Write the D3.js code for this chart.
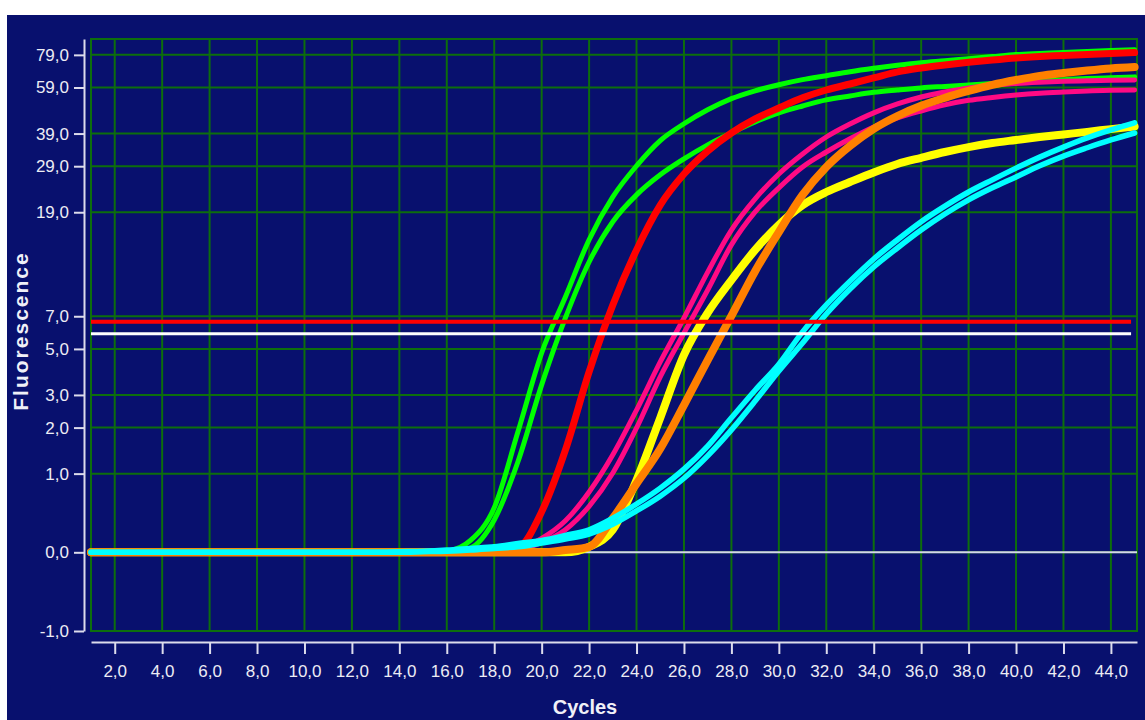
<!DOCTYPE html>
<meta charset="utf-8">
<style>
  body { margin: 0; background: #fff; }
  .axis path, .axis line { stroke: #dcdcec; stroke-width: 2; }
  .axis text { font: 17px "Liberation Sans Narrow", "Arial Narrow", sans-serif; fill: #ececf4; }
  .grid line, .grid rect { stroke: #0d6e0d; stroke-width: 2; fill: none; }
  .curve { fill: none; stroke-linejoin: round; stroke-linecap: round; }
  .label { font-family: "Liberation Sans", Arial, sans-serif; font-weight: bold; fill: #f0f0f8; }
</style>
<svg width="1145" height="720"></svg>
<script src="https://d3js.org/d3.v7.min.js"></script>
<script>

    // cycle numbers and fluorescence readings per well
    var cycles = d3.range(1, 46);

    var greenA = [0,0,0,0,0,0,0,0,0,0,0,0,0,0,0,
        0.01,0.11,0.48,1.89,4.79,8.48,14.7,21.9,29.1,36.6,42.6,48.3,53.4,57.3,60.5,
        63.3,65.6,68,70.1,72,73.7,75,76.4,77.8,79.2,80,80.7,81.5,82.2,82.6];
    var greenB = [0,0,0,0,0,0,0,0,0,0,0,0,0,0,0,0,
        0.04,0.33,1.22,3.37,6.88,11.9,17.4,22.3,26.8,31,35.2,39.2,43.3,47,
        50,52.8,54.7,56.5,57.7,58.8,59.6,60.4,61.2,62,62.7,63.3,63.9,64.4,64.9];
    var red = [0,0,0,0,0,0,0,0,0,0,0,0,0,0,0,0,0,
        0.01,0.04,0.43,1.46,3.9,7.84,13.35,20.3,27,33.3,39.2,44.5,49.1,
        53.8,57.7,60.9,64.3,67.9,70.3,72.2,73.9,75.5,76.9,77.9,78.6,79.3,80,80.6];
    var pinkA = [0,0,0,0,0,0,0,0,0,0,0,0,0,0,0,0,0,0,
        0.03,0.13,0.32,0.7,1.36,2.5,4.35,6.88,10.8,16.1,21.5,27,
        32.4,37.8,42.5,47,50.9,54.2,56.7,58.8,60.1,61.2,61.9,62.4,62.7,63,63.1];
    var pinkB = [0,0,0,0,0,0,0,0,0,0,0,0,0,0,0,0,0,0,
        0.02,0.09,0.22,0.5,1.01,1.99,3.69,5.9,9.08,14,19.05,23.8,
        28.8,33,37.2,41.4,44.9,47.8,50.5,52.6,54,55.2,56.1,56.7,57.2,57.6,57.7];
    var yellow = [0,0,0,0,0,0,0,0,0,0,0,0,0,0,0,0,0,0,0,0,0,
        0.05,0.22,0.89,2.27,4.69,7.24,10,13.35,16.9,
        20.3,22.9,25.1,27.4,29.6,31.3,33,34.5,35.8,36.8,37.8,38.7,39.6,40.6,41.6];
    var orange = [0,0,0,0,0,0,0,0,0,0,0,0,0,0,0,0,0,0,0,0,
        0.02,0.05,0.35,0.83,1.49,2.66,4.44,7.02,10.9,15.8,
        22.3,28.8,34.9,40.7,45.7,50.1,53.8,57.2,60.4,63.1,65.5,67.2,68.7,70,70.9];
    var cyanA = [0,0,0,0,0,0,0,0,0,0,0,0,0,
        0.005,0.01,0.02,0.035,0.05,0.08,0.11,0.16,0.22,0.35,0.53,0.76,1.08,1.55,2.27,3.17,4.24,
        5.97,7.84,9.9,12.25,14.7,17.4,20.1,22.9,25.6,28.5,31.5,34.5,37.5,40.3,43];
    var cyanB = [0,0,0,0,0,0,0,0,0,0,0,0,0,0,
        0.005,0.01,0.02,0.035,0.05,0.085,0.124,0.175,0.28,0.44,0.64,0.92,1.34,1.94,2.79,3.94,
        5.32,7.16,9.17,11.35,13.6,16.1,18.7,21.3,23.8,26.3,29.1,31.8,34.3,36.8,39.2];

    var thresholds = [6.63, 5.86];
    var yTicks = [-1, 0, 1, 2, 3, 5, 7, 19, 29, 39, 59, 79];
    var xTicks = d3.range(2, 45, 2);

    var wells = [
        {values: greenA, color: "#00ff00", width: 5},
        {values: greenB, color: "#00ff00", width: 5},
        {values: red, color: "#ff0000", width: 7},
        {values: pinkA, color: "#ff0a84", width: 5},
        {values: pinkB, color: "#ff0a84", width: 5},
        {values: yellow, color: "#ffff00", width: 8},
        {values: orange, color: "#ff8000", width: 8},
        {values: cyanA, color: "#00ffff", width: 5.5},
        {values: cyanB, color: "#00ffff", width: 5.5}
    ];

    var svg = d3.select("svg");

    svg.append("rect")
        .attr("x", 7).attr("y", 15)
        .attr("width", 1138).attr("height", 705)
        .attr("fill", "#08106e");

    var x = d3.scaleLinear().domain([1, 45.1]).range([91, 1137]);
    var y = d3.scaleSymlog().constant(1).domain([-1, 91]).range([631, 39]);

    var fmt = d3.formatLocale({decimal: ",", thousands: ".", grouping: [3], currency: ["", ""], minus: "-"}).format(".1f");

    // grid
    var grid = svg.append("g").attr("class", "grid");
    grid.append("rect")
        .attr("x", x(1)).attr("y", y(91))
        .attr("width", x(45.1) - x(1)).attr("height", y(-1) - y(91));
    grid.selectAll(".v").data(xTicks).enter().append("line")
        .attr("x1", d => x(d)).attr("x2", d => x(d))
        .attr("y1", y(91)).attr("y2", y(-1));
    grid.selectAll(".h").data(yTicks).enter().append("line")
        .attr("x1", x(1)).attr("x2", x(45.1))
        .attr("y1", d => y(d)).attr("y2", d => y(d));

    // baseline
    svg.append("line")
        .attr("x1", x(1)).attr("x2", x(45.1))
        .attr("y1", y(0)).attr("y2", y(0))
        .attr("stroke", "#d4d4ec").attr("stroke-width", 2);

    var line = d3.line()
        .x((d, i) => x(cycles[i]))
        .y(d => y(d))
        .curve(d3.curveMonotoneX);

    svg.selectAll(".curve").data(wells).enter().append("path")
        .attr("class", "curve")
        .attr("d", d => line(d.values))
        .attr("stroke", d => d.color)
        .attr("stroke-width", d => d.width);

    // threshold lines
    svg.selectAll(".thr").data(thresholds).enter().append("line")
        .attr("x1", x(1)).attr("x2", x(44.85))
        .attr("y1", d => y(d)).attr("y2", d => y(d))
        .attr("stroke", (d, i) => i === 0 ? "#ff0000" : "#ffffff")
        .attr("stroke-width", (d, i) => i === 0 ? 4 : 3);

    // axes
    svg.append("g")
        .attr("class", "axis")
        .attr("transform", "translate(84,0)")
        .call(d3.axisLeft(y).tickValues(yTicks).tickFormat(fmt).tickSize(10).tickSizeOuter(0).tickPadding(5));

    svg.append("g")
        .attr("class", "axis")
        .attr("transform", "translate(0,642)")
        .call(d3.axisBottom(x).tickValues(xTicks).tickFormat(fmt).tickSize(12).tickSizeOuter(0).tickPadding(11));

    svg.append("text")
        .attr("class", "label")
        .attr("transform", "translate(28,331) rotate(-90)")
        .attr("text-anchor", "middle")
        .style("font-size", "21px")
        .style("letter-spacing", "2px")
        .text("Fluorescence");

    svg.append("text")
        .attr("class", "label")
        .attr("x", 585).attr("y", 714)
        .attr("text-anchor", "middle")
        .style("font-size", "20px")
        .text("Cycles");

</script>
